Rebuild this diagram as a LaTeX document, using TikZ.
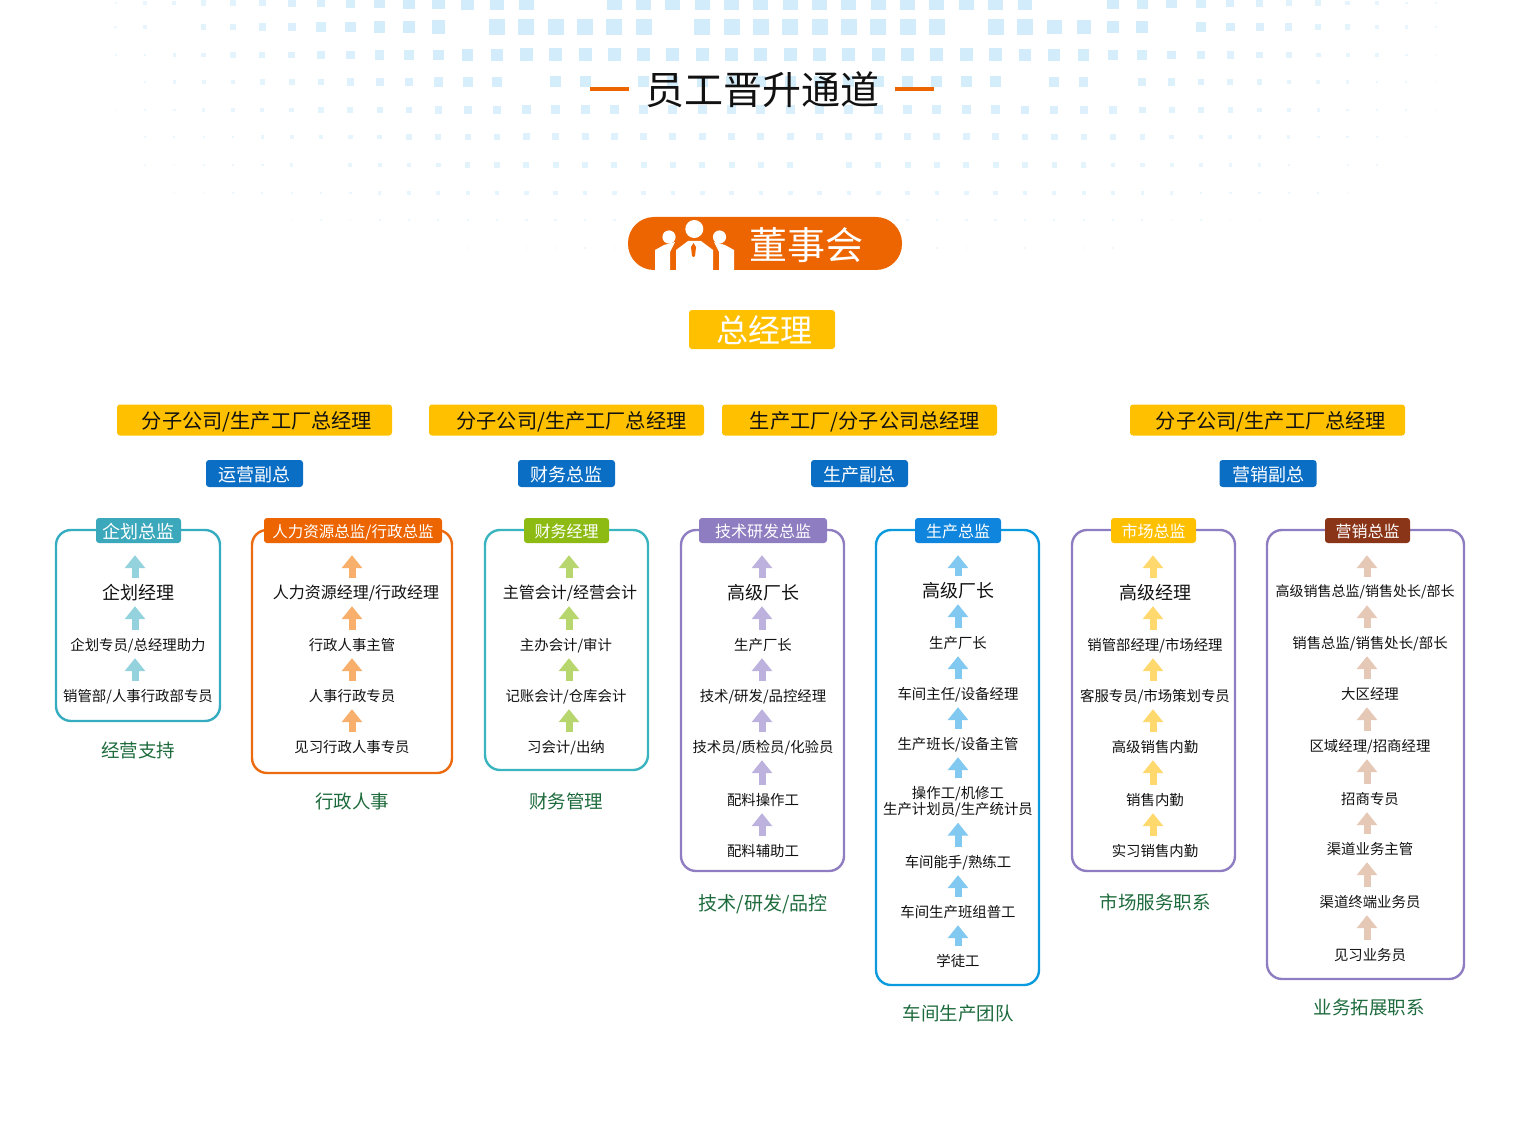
\documentclass[tikz,border=0pt]{standalone}
\usepackage{fontspec}
\setmainfont{Noto Sans CJK SC}
\usetikzlibrary{arrows.meta,positioning,calc}
\definecolor{ink}{HTML}{111111}
\definecolor{dotblue}{HTML}{D2ECFB}
\definecolor{boardorange}{HTML}{EC6500}
\definecolor{gold}{HTML}{FFC000}
\definecolor{deptblue}{HTML}{0B6EC5}
\definecolor{captiongreen}{HTML}{1D6B3C}
\definecolor{teal}{HTML}{35ACC0}
\definecolor{tealhead}{HTML}{3CA8BC}
\definecolor{tealarrow}{HTML}{94D2DE}
\definecolor{hrorange}{HTML}{EC6A10}
\definecolor{hrarrow}{HTML}{F8AF6C}
\definecolor{aqua}{HTML}{3AB5C0}
\definecolor{lime}{HTML}{8DBB14}
\definecolor{limearrow}{HTML}{B7D66E}
\definecolor{violet}{HTML}{8E7DC0}
\definecolor{violetarrow}{HTML}{BDB2DD}
\definecolor{skyline}{HTML}{0A9ADD}
\definecolor{skyhead}{HTML}{0F85DD}
\definecolor{skyarrow}{HTML}{82C9F1}
\definecolor{goldarrow}{HTML}{FFD96E}
\definecolor{brown}{HTML}{8B3518}
\definecolor{brownarrow}{HTML}{E6C8B6}
\tikzset{
  every node/.style={text=ink, inner sep=0pt, text depth=0pt},
  px/.style={font=\fontsize{#1}{#1}\selectfont},
  goldbar/.style={fill=gold, rounded corners=3pt, minimum width=275pt, minimum height=31pt, px=20.2},
  deptbox/.style={fill=deptblue, rounded corners=3pt, text=white, minimum width=97pt, minimum height=27pt, px=18},
  panel/.style={draw=#1, fill=white, rounded corners=15pt, line width=2.4pt},
  headbox/.style={fill=#1, rounded corners=3pt, text=white, minimum height=25pt, px=16},
  rank/.style={minimum height=28pt, px=14.4, align=center},
  midrank/.style={minimum height=28pt, px=16},
  toprank/.style={minimum height=28pt, px=18},
  caption/.style={text=captiongreen, px=18.5},
  flow/.style={-{Triangle[width=20pt,length=13pt]}, line width=7pt, draw=#1},
}
\begin{document}
\begin{tikzpicture}[x=1pt,y=-1pt]
  \useasboundingbox (0,0) rectangle (1520,1123);

  % background dots
  \begin{scope}
    \clip (0,0) rectangle (1520,1123);
    \foreach \r/\y/\b in {0/3/15,1/27/16,2/55/13,3/82/11,4/110/9,5/137/7,6/165/6,7/193/4.5,8/220/2.5,9/248/1.5} {
      \foreach \k in {-16,...,30} {
        \pgfmathsetmacro{\x}{585+29.33*\k}
        \pgfmathsetmacro{\s}{\b*max(0,min(1,1-(abs(\x-770)-250)/480))}
        \pgfmathtruncatemacro{\skipit}{mod(\k*\k+5*\r+\k,17)==0 ? 1 : 0}
        \pgfmathtruncatemacro{\pct}{min(100,30+\s*6)}
        \ifdim\s pt>1.2pt \ifnum\skipit=0
          \fill[dotblue!\pct!white] (\x-\s/2,\y-\s/2) rectangle (\x+\s/2,\y+\s/2);
        \fi\fi
      }
    }
  \end{scope}

  % title
  \node[px=39] (title) at (762,88) {员工晋升通道};
  \draw[boardorange, line width=4pt] ([shift={(-16,1)}]title.west) -- ++(-39,0);
  \draw[boardorange, line width=4pt] ([shift={(16,1)}]title.east) -- ++(39,0);

  % board and general manager
  \node[fill=boardorange, rounded corners=26pt, minimum width=274pt, minimum height=53pt, text=white, px=38] (board) at (765,243.5) {\hspace*{82pt}董事会};
  \fill[white] (694.3,229) circle (9);
  \fill[white] (669,237) circle (6.6);
  \fill[white] (719.5,237) circle (6.6);
  \fill[white] (676,271) -- (676,250) -- (688,241) -- (701,241) -- (713,250) -- (713,271) -- cycle;
  \fill[white] (655,271) -- (655,250) -- (664,245) -- (675,242) -- (670,252) -- (670,271) -- cycle;
  \fill[white] (734,271) -- (734,250) -- (725,245) -- (714,242) -- (719,252) -- (719,271) -- cycle;
  \fill[boardorange] (693.5,243) -- (696,247) -- (695,256) -- (693.5,257) -- (692,256) -- (691,247) -- cycle;
  \node[fill=gold, rounded corners=3pt, minimum width=146pt, minimum height=39pt, text=white, px=32] (gm) at (762,329.5) {\hspace*{4pt}总经理};

  % branch managers
  \foreach \i/\x/\d/\t in {1/254.5/5/{分子公司/生产工厂总经理}, 2/566.5/10/{分子公司/生产工厂总经理}, 3/859.5/11/{生产工厂/分子公司总经理}, 4/1267.5/7/{分子公司/生产工厂总经理}} {
    \node[goldbar] (branch\i) at (\x,420) {\hspace*{\d pt}\t};
  }

  % vice presidents
  \foreach \i/\x/\t in {1/254.5/运营副总, 2/566.5/财务总监, 3/859.5/生产副总, 4/1268/营销副总} {
    \node[deptbox] (dept\i) at (\x,473.5) {\t};
  }

  % --- column 1: planning -----------------------------------------------
  \node[panel=teal, minimum width=164pt, minimum height=191pt] (p1) at (138,625.5) {};
  \node[headbox=tealhead, minimum width=85pt, px=18] (h1) at (138.5,530.5) {企划总监};
  \coordinate (ax1) at (135,0);
  \node[toprank] (n1-1) at (138,592) {企划经理};
  \foreach \n/\y/\t in {2/644/{企划专员/总经理助力}, 3/695/{销管部/人事行政部专员}} {
    \node[rank] (n1-\n) at (138,\y) {\t};
  }
  \draw[flow=tealarrow, shorten >=12pt] (n1-1.north -| ax1) -- (h1.south -| ax1);
  \foreach \a/\b in {2/1, 3/2} {
    \draw[flow=tealarrow] (n1-\a.north -| ax1) -- (n1-\b.south -| ax1);
  }
  \node[caption] (c1) at (138,750) {经营支持};

  % --- column 2: human resources ----------------------------------------
  \node[panel=hrorange, minimum width=200pt, minimum height=243pt] (p2) at (352,651.5) {};
  \node[headbox=boardorange, minimum width=178pt, px=15.5] (h2) at (353,530.5) {人力资源总监/行政总监};
  \coordinate (ax2) at (352,0);
  \node[midrank] (n2-1) at (356,592) {人力资源经理/行政经理};
  \foreach \n/\y/\t in {2/644/行政人事主管, 3/695/人事行政专员, 4/746/见习行政人事专员} {
    \node[rank] (n2-\n) at (352,\y) {\t};
  }
  \draw[flow=hrarrow, shorten >=12pt] (n2-1.north -| ax2) -- (h2.south -| ax2);
  \foreach \a/\b in {2/1, 3/2, 4/3} {
    \draw[flow=hrarrow] (n2-\a.north -| ax2) -- (n2-\b.south -| ax2);
  }
  \node[caption] (c2) at (352,801) {行政人事};

  % --- column 3: finance ------------------------------------------------
  \node[panel=aqua, minimum width=163pt, minimum height=240pt] (p3) at (566.5,650) {};
  \node[headbox=lime, minimum width=85pt] (h3) at (566.5,530.5) {财务经理};
  \coordinate (ax3) at (569,0);
  \node[midrank] (n3-1) at (570,592) {主管会计/经营会计};
  \foreach \n/\y/\t in {2/644/{主办会计/审计}, 3/695/{记账会计/仓库会计}, 4/746/{习会计/出纳}} {
    \node[rank] (n3-\n) at (566,\y) {\t};
  }
  \draw[flow=limearrow, shorten >=12pt] (n3-1.north -| ax3) -- (h3.south -| ax3);
  \foreach \a/\b in {2/1, 3/2, 4/3} {
    \draw[flow=limearrow] (n3-\a.north -| ax3) -- (n3-\b.south -| ax3);
  }
  \node[caption] (c3) at (566,801) {财务管理};

  % --- column 4: research and quality -----------------------------------
  \node[panel=violet, minimum width=163pt, minimum height=341pt] (p4) at (762.5,700.5) {};
  \node[headbox=violet, minimum width=128pt] (h4) at (763,530.5) {技术研发总监};
  \coordinate (ax4) at (762,0);
  \node[toprank] (n4-1) at (763,592) {高级厂长};
  \foreach \n/\y/\t in {2/644/生产厂长, 3/695/{技术/研发/品控经理}, 4/746/{技术员/质检员/化验员}, 5/799/配料操作工, 6/850/配料辅助工} {
    \node[rank] (n4-\n) at (763,\y) {\t};
  }
  \draw[flow=violetarrow, shorten >=12pt] (n4-1.north -| ax4) -- (h4.south -| ax4);
  \foreach \a/\b in {2/1, 3/2, 4/3, 5/4, 6/5} {
    \draw[flow=violetarrow] (n4-\a.north -| ax4) -- (n4-\b.south -| ax4);
  }
  \node[caption, px=19] (c4) at (763,902) {技术/研发/品控};

  % --- column 5: workshop -----------------------------------------------
  \node[panel=skyline, minimum width=163pt, minimum height=455pt] (p5) at (957.5,757.5) {};
  \node[headbox=skyhead, minimum width=86pt] (h5) at (958,530.5) {生产总监};
  \coordinate (ax5) at (958,0);
  \node[toprank] (n5-1) at (958,590) {高级厂长};
  \foreach \n/\y/\t in {2/642/生产厂长, 3/693/{车间主任/设备经理}, 4/743/{生产班长/设备主管}, 6/861/{车间能手/熟练工}, 7/911/车间生产班组普工, 8/960/学徒工} {
    \node[rank] (n5-\n) at (958,\y) {\t};
  }
  \node[rank, minimum height=44pt] (n5-5) at (958,800.5) {操作工/机修工\\生产计划员/生产统计员};
  \draw[flow=skyarrow, shorten >=12pt] (n5-1.north -| ax5) -- (h5.south -| ax5);
  \foreach \a/\b in {2/1, 3/2, 4/3, 5/4, 6/5, 7/6, 8/7} {
    \draw[flow=skyarrow] (n5-\a.north -| ax5) -- (n5-\b.south -| ax5);
  }
  \node[caption] (c5) at (958,1013) {车间生产团队};

  % --- column 6: market service -----------------------------------------
  \node[panel=violet, minimum width=163pt, minimum height=341pt] (p6) at (1153.5,700.5) {};
  \node[headbox=gold, minimum width=85pt] (h6) at (1153.5,530.5) {市场总监};
  \coordinate (ax6) at (1153,0);
  \node[toprank] (n6-1) at (1155,592) {高级经理};
  \foreach \n/\y/\t in {2/644/{销管部经理/市场经理}, 3/695/{客服专员/市场策划专员}, 4/746/高级销售内勤, 5/799/销售内勤, 6/850/实习销售内勤} {
    \node[rank] (n6-\n) at (1155,\y) {\t};
  }
  \draw[flow=goldarrow, shorten >=12pt] (n6-1.north -| ax6) -- (h6.south -| ax6);
  \foreach \a/\b in {2/1, 3/2, 4/3, 5/4, 6/5} {
    \draw[flow=goldarrow] (n6-\a.north -| ax6) -- (n6-\b.south -| ax6);
  }
  \node[caption] (c6) at (1155,902) {市场服务职系};

  % --- column 7: sales --------------------------------------------------
  \node[panel=violet, minimum width=197pt, minimum height=449pt] (p7) at (1365.5,754.5) {};
  \node[headbox=brown, minimum width=85pt] (h7) at (1367.5,530.5) {营销总监};
  \coordinate (ax7) at (1367,0);
  \node[rank, px=14] (n7-1) at (1365,591) {高级销售总监/销售处长/部长};
  \foreach \n/\y/\t in {2/642/{销售总监/销售处长/部长}, 3/693/大区经理, 4/745/{区域经理/招商经理}, 5/798/招商专员, 6/848/渠道业务主管, 7/901/渠道终端业务员, 8/954/见习业务员} {
    \node[rank] (n7-\n) at (1370,\y) {\t};
  }
  \draw[flow=brownarrow, shorten >=12pt] (n7-1.north -| ax7) -- (h7.south -| ax7);
  \foreach \a/\b in {2/1, 3/2, 4/3, 5/4, 6/5, 7/6, 8/7} {
    \draw[flow=brownarrow] (n7-\a.north -| ax7) -- (n7-\b.south -| ax7);
  }
  \node[caption] (c7) at (1369,1007) {业务拓展职系};
\end{tikzpicture}
\end{document}
